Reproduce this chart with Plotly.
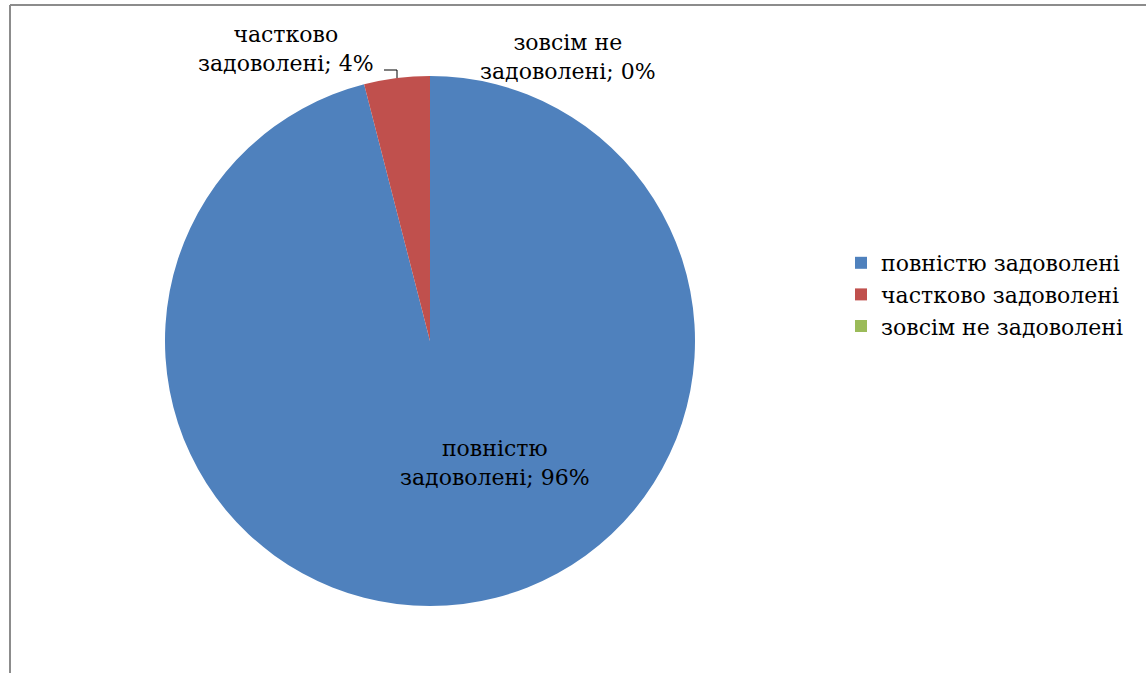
import plotly.graph_objects as go

labels = ["повністю задоволені", "частково задоволені", "зовсім не задоволені"]
values = [96, 4, 0]
colors = ["#4F81BD", "#C0504D", "#9BBB59"]
label_lines = [["повністю", "задоволені"], ["частково", "задоволені"], ["зовсім не", "задоволені"]]

W, H = 1146, 673
cx, cy, r = 430, 341, 265
FONT = "DejaVu Serif"
FS = 22

fig = go.Figure(go.Pie(
    labels=labels, values=values, sort=False, direction="clockwise", rotation=0,
    marker=dict(colors=colors, line=dict(width=0)),
    textinfo="none", hoverinfo="label+percent",
    domain=dict(x=[(cx - r) / W, (cx + r) / W], y=[(H - cy - r) / H, (H - cy + r) / H]),
))

# data label positions (pixel coords)
label_pos = [(495, 463), (286, 49), (568, 57)]
for lines, v, (px, py) in zip(label_lines, values, label_pos):
    pct = round(100 * v / sum(values))
    fig.add_annotation(
        x=px / W, y=1 - py / H, xref="paper", yref="paper",
        text=f"{lines[0]}<br>{lines[1]}; {pct}%", showarrow=False,
        font=dict(family=FONT, size=FS, color="#000"), align="center",
        xanchor="center", yanchor="middle",
    )

def px2(x, y):
    return x / W, 1 - y / H

# leader line for small slice
pts = [(384, 70), (397, 70), (397, 78)]
for (x0, y0), (x1, y1) in zip(pts[:-1], pts[1:]):
    a, b = px2(x0, y0)
    c, d = px2(x1, y1)
    fig.add_shape(type="line", xref="paper", yref="paper", x0=a, y0=b, x1=c, y1=d,
                  line=dict(color="#000", width=1))

# chart border
for (x0, y0), (x1, y1) in [((10, 5), (W, 5)), ((10, 5), (10, H))]:
    a, b = px2(x0, y0)
    c, d = px2(x1, y1)
    fig.add_shape(type="line", xref="paper", yref="paper", x0=a, y0=b, x1=c, y1=d,
                  line=dict(color="#8c8c8c", width=2))

fig.update_layout(
    width=W, height=H, margin=dict(l=0, r=0, t=0, b=0),
    paper_bgcolor="white", plot_bgcolor="white",
    showlegend=True,
    legend=dict(x=841 / W, y=1 - 242 / H, xanchor="left", yanchor="top",
                font=dict(family=FONT, size=FS, color="#000"),
                tracegroupgap=0, itemwidth=30, bgcolor="rgba(0,0,0,0)"),
)

fig.write_html("out.html", config={"displayModeBar": False},
               post_script="document.body.style.margin='0';")
